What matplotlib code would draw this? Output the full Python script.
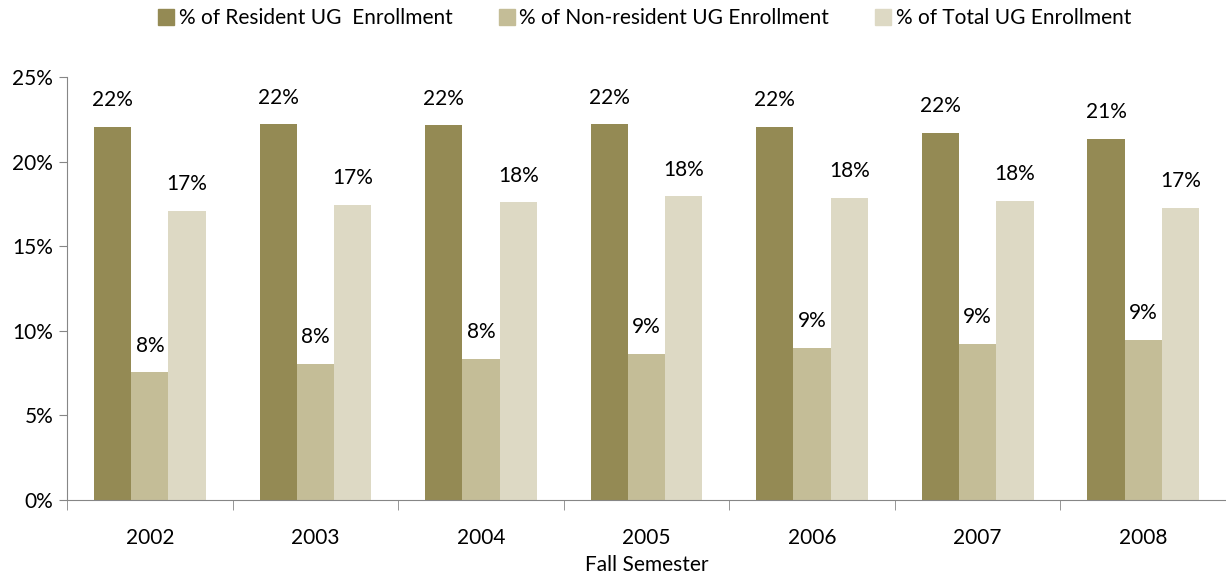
import numpy as np
import matplotlib
matplotlib.use("Agg")
import matplotlib.pyplot as plt
from matplotlib.lines import Line2D

plt.rcParams['font.family'] = ['Lato', 'DejaVu Sans']

years = ['2002', '2003', '2004', '2005', '2006', '2007', '2008']
resident = [22.05, 22.2, 22.15, 22.2, 22.05, 21.7, 21.35]
nonresident = [7.55, 8.05, 8.35, 8.65, 9.0, 9.25, 9.45]
total = [17.1, 17.45, 17.6, 17.95, 17.85, 17.7, 17.25]
labels_res = ['22%', '22%', '22%', '22%', '22%', '22%', '21%']
labels_non = ['8%', '8%', '8%', '9%', '9%', '9%', '9%']
labels_tot = ['17%', '17%', '18%', '18%', '18%', '18%', '17%']

series = [
    ('% of Resident UG  Enrollment', resident, labels_res, '#948A54'),
    ('% of Non-resident UG Enrollment', nonresident, labels_non, '#C4BD97'),
    ('% of Total UG Enrollment', total, labels_tot, '#DDD9C4'),
]

fs = 15
fig = plt.figure(figsize=(12.26, 5.8), dpi=100, facecolor='white')
ax = fig.add_axes([0.0547, 0.1379, 0.9453, 0.7293])

x = np.arange(len(years))
w = 0.225
handles = []
for i, (name, vals, labs, col) in enumerate(series):
    pos = x + (i - 1) * w
    ax.bar(pos, vals, width=w, color=col, linewidth=0)
    for px, v, t in zip(pos, vals, labs):
        ax.annotate(t, (px, v), xytext=(0, 12), textcoords='offset points',
                    ha='center', va='bottom', fontsize=fs, color='black')
    handles.append(Line2D([], [], marker='s', linestyle='none', markersize=11,
                          markerfacecolor=col, markeredgecolor=col, label=name))

ax.set_xlim(-0.5, len(years) - 0.5)
ax.set_ylim(0, 25)
ax.set_yticks([0, 5, 10, 15, 20, 25])
ax.set_yticklabels(['0%', '5%', '10%', '15%', '20%', '25%'], fontsize=fs)
ax.set_xticks(x)
ax.set_xticklabels(years, fontsize=fs)
ax.set_xticks(np.arange(len(years) + 1) - 0.5, minor=True)
ax.tick_params(axis='x', which='major', length=0, pad=20)
ax.tick_params(axis='x', which='minor', length=7, color='#868686', direction='out')
ax.tick_params(axis='y', length=6, color='#868686', direction='out', pad=4)
for s in ['top', 'right']:
    ax.spines[s].set_visible(False)
for s in ['left', 'bottom']:
    ax.spines[s].set_color('#868686')
ax.set_xlabel('Fall Semester', fontsize=fs, labelpad=5)

fig.legend(handles=handles, loc='upper center', bbox_to_anchor=(0.525, 1.018),
           ncol=3, frameon=False, fontsize=fs, handletextpad=0.1,
           columnspacing=2.1, handlelength=1.0)

fig.savefig('out.png', dpi=100)
